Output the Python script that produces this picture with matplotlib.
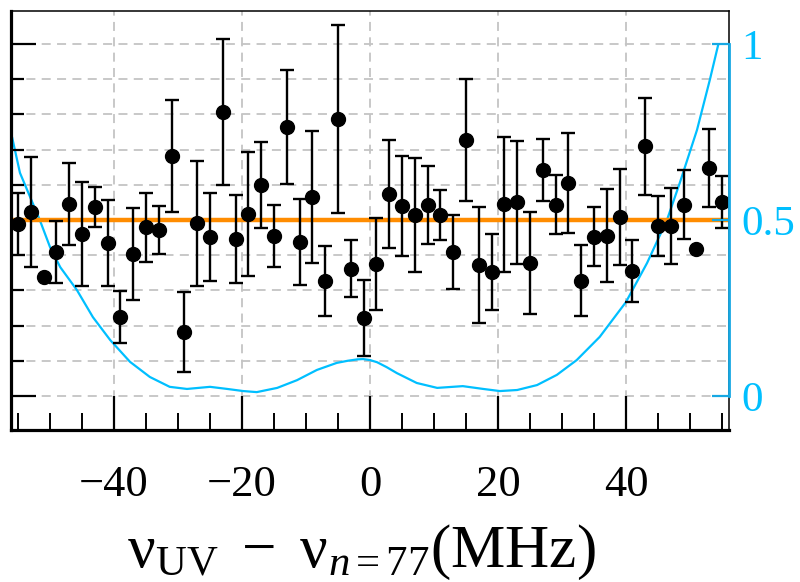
import matplotlib.pyplot as plt
import numpy as np
from matplotlib.ticker import FixedLocator

plt.rcParams['font.family'] = ['Liberation Serif', 'DejaVu Serif']
plt.rcParams['mathtext.fontset'] = 'custom'
plt.rcParams['mathtext.rm'] = 'Liberation Serif'
plt.rcParams['mathtext.it'] = 'Liberation Serif:italic'

# 测量点 (MHz)
freq = [-57, -55, -53, -51, -49, -47, -45, -43, -41, -39,
        -37, -35, -33, -31, -29, -27, -25, -23, -21, -19,
        -17, -15, -13, -11, -9, -7, -5, -3, -1, 1,
        3, 5, 7, 9, 11, 13, 15, 17, 19, 21,
        23, 25, 27, 29, 31, 33, 35, 37, 39, 41,
        43, 45, 47, 49, 51, 53, 55]
signal = [0.480, 0.489, 0.523, 0.338, 0.409, 0.545, 0.460, 0.537, 0.435, 0.224,
          0.403, 0.480, 0.472, 0.682, 0.182, 0.491, 0.452, 0.807, 0.446, 0.517,
          0.599, 0.455, 0.764, 0.438, 0.565, 0.327, 0.787, 0.361, 0.222, 0.375,
          0.574, 0.540, 0.514, 0.543, 0.514, 0.409, 0.727, 0.372, 0.352, 0.545,
          0.551, 0.378, 0.642, 0.543, 0.605, 0.327, 0.452, 0.455, 0.509, 0.355,
          0.710, 0.483, 0.483, 0.543, 0.418, 0.648, 0.551]
signal_err = [0.104, 0.088, 0.156, 0.0, 0.088, 0.116, 0.148, 0.058, 0.122, 0.074,
              0.131, 0.098, 0.068, 0.158, 0.114, 0.178, 0.124, 0.207, 0.125, 0.175,
              0.122, 0.088, 0.163, 0.122, 0.188, 0.099, 0.268, 0.081, 0.107, 0.132,
              0.153, 0.143, 0.161, 0.111, 0.070, 0.105, 0.173, 0.166, 0.108, 0.192,
              0.175, 0.145, 0.088, 0.084, 0.142, 0.101, 0.084, 0.132, 0.136, 0.089,
              0.138, 0.085, 0.109, 0.098, 0.0, 0.112, 0.074]

# 蓝色曲线 (右轴)
curve_x = [-55.9, -54.7, -53.1, -51.6, -50.0, -48.4, -45.8, -43.3, -40.6, -37.5,
           -34.4, -31.3, -28.6, -25.0, -22.3, -19.8, -17.7, -14.5, -11.4, -8.3,
           -5.2, -3.5, -2.0, -1.1, 0.0, 1.1, 2.6, 4.2, 7.3, 10.5, 14.5, 17.7, 20.3,
           23.0, 26.1, 29.2, 32.3, 35.9, 40.0, 43.3, 46.4, 48.4, 51.1,
           53.1, 54.4]
curve_y = [0.733, 0.634, 0.565, 0.500, 0.423, 0.366, 0.301, 0.224, 0.159, 0.097,
           0.054, 0.026, 0.020, 0.026, 0.020, 0.014, 0.011, 0.023, 0.045, 0.074,
           0.094, 0.100, 0.104, 0.105, 0.102, 0.096, 0.082, 0.065, 0.037, 0.023,
           0.028, 0.020, 0.014, 0.017, 0.031, 0.060, 0.102, 0.168, 0.267, 0.378,
           0.500, 0.605, 0.756, 0.898, 0.997]

baseline = 0.5

cyan = '#00BFFF'
spine_cyan = '#17A8E3'

fig = plt.figure(figsize=(8, 5.82), dpi=100)
ax = fig.add_axes([0.01375, 0.2612, 0.8975, 0.7199])

ax.set_xlim(-56.1, 56.1)
ax.set_ylim(-0.0966, 1.094)

# 网格
for gx in [-40, -20, 0, 20, 40]:
    ax.axvline(gx, color='#C4C4C4', lw=1.3, ls=(0, (5, 3.5)), zorder=0)
for gy in np.arange(0, 1.01, 0.1):
    ax.axhline(gy, color='#C4C4C4', lw=1.3, ls=(0, (5, 3.5)), zorder=0)

ax.plot(curve_x, curve_y, color=cyan, lw=1.6, zorder=1)
ax.axhline(baseline, color='#FF8C00', lw=3.2, zorder=2)

freq = np.array(freq)
signal = np.array(signal)
signal_err = np.array(signal_err)
has_err = signal_err > 0
ax.errorbar(freq[has_err], signal[has_err], yerr=signal_err[has_err], fmt='none',
            ecolor='black', elinewidth=1.7, capsize=4.8, capthick=1.7, zorder=3)
ax.plot(freq, signal, 'o', color='black', ms=10, zorder=4)

# 坐标轴样式
ax.spines['left'].set_linewidth(2.3)
ax.spines['bottom'].set_linewidth(2.3)
ax.spines['top'].set_linewidth(1.1)
ax.spines['right'].set_linewidth(1.1)

ax.xaxis.set_major_locator(FixedLocator([-40, -20, 0, 20, 40]))
ax.xaxis.set_minor_locator(FixedLocator([-55, -50, -45, -35, -30, -25, -15, -10, -5,
                                         5, 10, 15, 25, 30, 35, 45, 50, 55]))
ax.tick_params(axis='x', which='major', direction='in', length=24.5, width=1.6,
               labelsize=32, pad=25)
ax.tick_params(axis='x', which='minor', direction='in', length=12, width=1.4)

ax.yaxis.set_major_locator(FixedLocator([0, 1]))
ax.yaxis.set_minor_locator(FixedLocator([0.1, 0.2, 0.3, 0.6, 0.7, 0.8, 0.9]))
ax.tick_params(axis='y', which='major', direction='in', length=18, width=1.6,
               labelleft=False)
ax.tick_params(axis='y', which='minor', direction='in', length=9.5, width=1.6)

# 右轴
ax2 = ax.twinx()
ax2.set_ylim(ax.get_ylim())
for s in ['left', 'top', 'bottom']:
    ax2.spines[s].set_visible(False)
ax2.spines['right'].set_bounds(0, 1)
ax2.spines['right'].set_color(spine_cyan)
ax2.spines['right'].set_linewidth(2.0)
ax2.set_yticks([0, 0.5, 1])
ax2.set_yticklabels(['0', '0.5', '1'])
ax2.tick_params(axis='y', direction='in', length=12, width=1.6, color=spine_cyan,
                labelcolor=cyan, labelsize=31, pad=9)

fig.text(0.452, 0.026, r'$\mathrm{\nu}_{\mathrm{UV}}\ -\ \mathrm{\nu}_{n=77}(\mathrm{MHz})$',
         fontsize=44, ha='center', va='baseline')

plt.savefig('out.png', dpi=100)
